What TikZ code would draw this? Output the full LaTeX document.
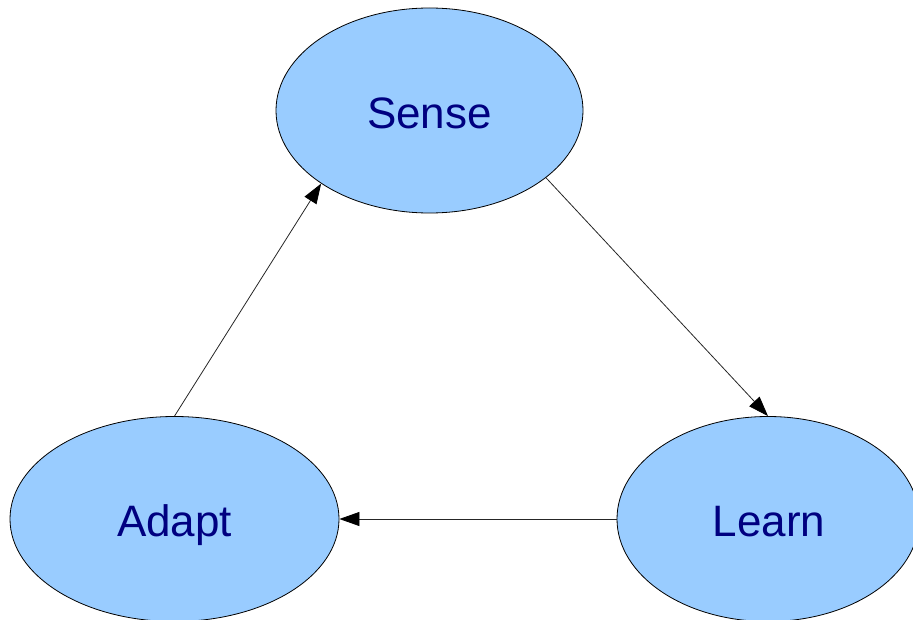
\documentclass[tikz,border=0pt]{standalone}
\usepackage{fontspec}
\setmainfont{Liberation Sans}
\usetikzlibrary{shapes.geometric,arrows.meta}
\definecolor{stagefill}{HTML}{99CCFF}
\definecolor{stagetext}{HTML}{000080}
\tikzset{
  stage/.style={ellipse, draw=black, line width=0.8pt, fill=stagefill,
    inner sep=0pt, minimum width=#1, minimum height=205pt,
    text=stagetext, font=\fontsize{44}{44}\selectfont,
    text height=31.5pt, text depth=0pt},
  flow/.style={draw=black!85, line width=0.8pt,
    -{Triangle[length=20pt,width=14pt,color=black]}}
}
\begin{document}
\begin{tikzpicture}[x=1pt,y=-1pt]
  \useasboundingbox (0,0) rectangle (913,620);
  \clip (0,0) rectangle (913,620);
  \node[stage=307pt] (sense) at (429.5,110.5) {\raisebox{-2pt}{Sense}};
  \node[stage=329pt] (adapt) at (174.5,519) {\raisebox{-2pt}{Adapt}};
  \node[stage=302pt] (learn) at (768,519) {\raisebox{-2pt}{\hspace{2pt}Learn}};
  \draw[flow] (sense.-30) -- (learn.north);
  \draw[flow] (learn.west) -- (adapt.east);
  \draw[flow] (adapt.north) -- (sense.214);
\end{tikzpicture}
\end{document}
